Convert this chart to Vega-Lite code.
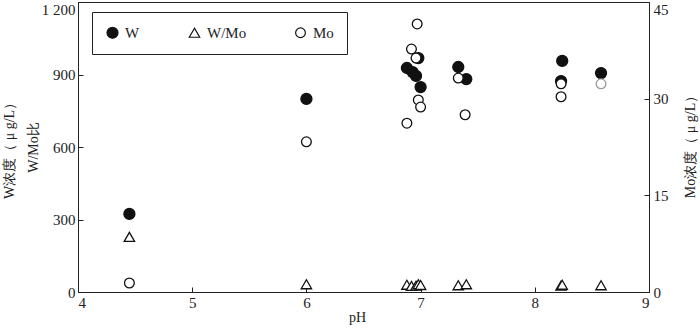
{
  "$schema": "https://vega.github.io/schema/vega-lite/v6.json",
  "width": 571,
  "height": 290,
  "autosize": {"type": "none"},
  "padding": {"left": 78, "top": 2, "right": 51, "bottom": 36},
  "background": "white",
  "config": {
    "view": {"stroke": "#222", "strokeWidth": 1},
    "font": "Liberation Serif",
    "axis": {
      "labelFont": "Liberation Serif",
      "titleFont": "Liberation Serif",
      "labelFontSize": 15,
      "titleFontSize": 14,
      "titleFontWeight": "normal",
      "labelColor": "#222",
      "titleColor": "#222",
      "domainColor": "#222",
      "tickColor": "#222",
      "grid": false,
      "tickSize": -5
    }
  },
  "data": {
    "values": [
      {"pH": 4.45, "series": "W", "value": 323},
      {"pH": 6.0, "series": "W", "value": 799},
      {"pH": 6.98, "series": "W", "value": 968},
      {"pH": 6.88, "series": "W", "value": 927},
      {"pH": 6.93, "series": "W", "value": 910},
      {"pH": 6.96, "series": "W", "value": 894},
      {"pH": 7.0, "series": "W", "value": 848},
      {"pH": 7.33, "series": "W", "value": 931},
      {"pH": 7.4, "series": "W", "value": 881},
      {"pH": 8.24, "series": "W", "value": 956},
      {"pH": 8.23, "series": "W", "value": 873},
      {"pH": 8.58, "series": "W", "value": 906},
      {"pH": 4.45, "series": "W/Mo", "value": 228},
      {"pH": 6.0, "series": "W/Mo", "value": 32},
      {"pH": 6.88, "series": "W/Mo", "value": 30},
      {"pH": 6.92, "series": "W/Mo", "value": 25},
      {"pH": 6.96, "series": "W/Mo", "value": 26},
      {"pH": 6.98, "series": "W/Mo", "value": 32},
      {"pH": 7.0, "series": "W/Mo", "value": 29},
      {"pH": 7.33, "series": "W/Mo", "value": 28},
      {"pH": 7.4, "series": "W/Mo", "value": 32},
      {"pH": 8.23, "series": "W/Mo", "value": 27},
      {"pH": 8.24, "series": "W/Mo", "value": 30},
      {"pH": 8.58, "series": "W/Mo", "value": 28},
      {"pH": 4.45, "series": "Mo", "value": 1.4},
      {"pH": 6.0, "series": "Mo", "value": 23.3},
      {"pH": 6.97, "series": "Mo", "value": 41.6},
      {"pH": 6.92, "series": "Mo", "value": 37.7},
      {"pH": 6.96, "series": "Mo", "value": 36.3},
      {"pH": 6.98, "series": "Mo", "value": 29.8},
      {"pH": 7.0, "series": "Mo", "value": 28.7},
      {"pH": 6.88, "series": "Mo", "value": 26.2},
      {"pH": 7.33, "series": "Mo", "value": 33.2},
      {"pH": 7.39, "series": "Mo", "value": 27.5},
      {"pH": 8.23, "series": "Mo", "value": 32.3},
      {"pH": 8.23, "series": "Mo", "value": 30.3},
      {"pH": 8.58, "series": "Mo", "value": 32.3}
    ]
  },
  "encoding": {
    "x": {
      "field": "pH",
      "type": "quantitative",
      "scale": {"domain": [4, 9], "nice": false, "zero": false},
      "axis": {
        "values": [4, 5, 6, 7, 8, 9],
        "title": "pH",
        "titleX": 279,
        "titleY": 18,
        "titleBaseline": "top",
        "titleAlign": "center",
        "labelPadding": 8
      }
    },
    "shape": {
      "field": "series",
      "type": "nominal",
      "scale": {"domain": ["W", "W/Mo", "Mo"], "range": ["circle", "triangle-up", "circle"]},
      "legend": {
        "title": null,
        "orient": "none",
        "legendX": 14,
        "legendY": 10,
        "direction": "horizontal",
        "strokeColor": "#222",
        "padding": 13,
        "columnPadding": 46,
        "labelFont": "Liberation Serif",
        "labelFontSize": 15,
        "labelColor": "#222",
        "labelOffset": 5,
        "symbolStrokeWidth": 1.2
      }
    },
    "fill": {
      "field": "series",
      "type": "nominal",
      "scale": {"domain": ["W", "W/Mo", "Mo"], "range": ["#111", "white", "white"]},
      "legend": {"title": null}
    },
    "size": {
      "field": "series",
      "type": "nominal",
      "scale": {"domain": ["W", "W/Mo", "Mo"], "range": [121, 95, 80]},
      "legend": {"title": null}
    }
  },
  "layer": [
    {
      "transform": [{"filter": "datum.series != 'Mo'"}],
      "mark": {"type": "point", "filled": true, "opacity": 1, "strokeWidth": 1.3, "stroke": "#111"},
      "encoding": {
        "y": {
          "field": "value",
          "type": "quantitative",
          "scale": {"domain": [0, 1200], "nice": false},
          "axis": {
            "values": [0, 300, 600, 900, 1200],
            "labelExpr": "datum.value == 1200 ? '1 200' : datum.label",
            "labelBaseline": {"condition": {"test": "datum.value == 1200", "value": "top"}, "value": "middle"},
            "labelPadding": 8,
            "title": ["W浓度（ μ g/L）", "W/Mo比"],
            "titleAngle": -90,
            "titleBaseline": "top",
            "titleAlign": "center",
            "titleX": -76,
            "titleY": 145,
            "titleLineHeight": 24
          }
        }
      }
    },
    {
      "transform": [{"filter": "datum.series == 'Mo'"}],
      "mark": {"type": "point", "filled": true, "opacity": 1, "strokeWidth": 1.3},
      "encoding": {
        "y": {
          "field": "value",
          "type": "quantitative",
          "scale": {"domain": [0, 45], "nice": false},
          "axis": {
            "orient": "right",
            "values": [0, 15, 30, 45],
            "labelBaseline": {"condition": {"test": "datum.value == 45", "value": "top"}, "value": "middle"},
            "labelPadding": 9,
            "title": "Mo浓度（ μ g/L）",
            "titleAngle": 270,
            "titleBaseline": "top",
            "titleAlign": "center",
            "titleX": 34,
            "titleY": 141
          }
        },
        "stroke": {
          "condition": {"test": "datum.pH == 8.58", "value": "#999"},
          "value": "#111"
        }
      }
    }
  ],
  "resolve": {"scale": {"y": "independent"}}
}
